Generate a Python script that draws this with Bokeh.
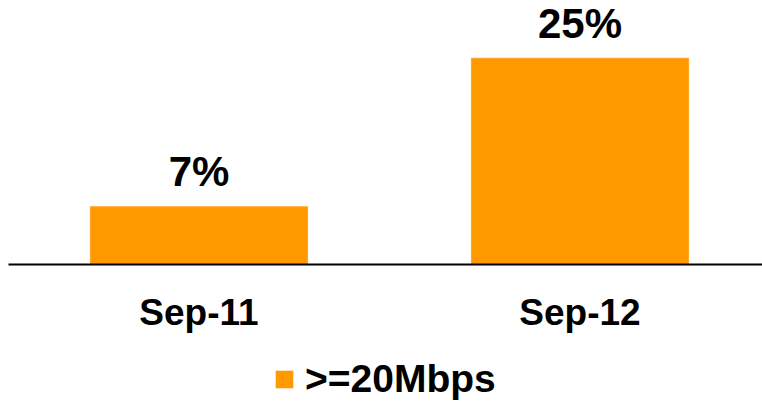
import numpy as np
from bokeh.plotting import figure
from bokeh.layouts import column
from bokeh.models import ColumnDataSource, Range1d, FixedTicker, Legend, LegendItem
from bokeh.core.properties import value
from bokeh.embed import file_html
from bokeh.resources import INLINE

categories = ["Sep-11", "Sep-12"]
shares = [7, 25]
labels = ["7%", "25%"]
series_name = ">=20Mbps"

BAR_COLOR = "#FF9900"
FONT = "Liberation Sans"

xpos = np.arange(len(categories)) + 0.5
src = ColumnDataSource(dict(x=xpos, y=shares, lab=labels))

p = figure(frame_width=754, frame_height=264, output_backend="svg", toolbar_location=None,
           x_range=Range1d(0, 1.979), y_range=Range1d(0, 32.0),
           min_border_left=8, min_border_right=0, min_border_top=0, min_border_bottom=86)
p.outline_line_color = None
p.grid.visible = False
p.yaxis.visible = False

p.vbar(x="x", top="y", width=0.57, bottom=0, source=src,
       fill_color=BAR_COLOR, line_color="#FFA520", line_width=1)
p.text(x="x", y="y", text="lab", source=src, text_align="center", text_baseline="alphabetic",
       y_offset=-35, text_font=value(FONT), text_font_style="bold",
       text_font_size="42px", text_color="black")

ax = p.xaxis[0]
ax.ticker = FixedTicker(ticks=list(xpos))
ax.major_label_overrides = {float(x): c for x, c in zip(xpos, categories)}
ax.major_tick_in = 0
ax.major_tick_out = 0
ax.minor_tick_in = 0
ax.minor_tick_out = 0
ax.axis_line_color = "black"
ax.axis_line_width = 2
ax.major_label_text_font = FONT
ax.major_label_text_font_style = "bold"
ax.major_label_text_font_size = "37px"
ax.major_label_text_color = "black"
ax.major_label_standoff = 27

# legend strip below the chart
lg = figure(frame_width=762, frame_height=51, output_backend="svg", toolbar_location=None,
            x_range=Range1d(100, 101), y_range=Range1d(100, 101),
            min_border_left=0, min_border_right=0, min_border_top=0, min_border_bottom=0)
lg.outline_line_color = None
lg.grid.visible = False
lg.axis.visible = False
lg_bars = lg.vbar(x="x", top="y", width=0.57, bottom=0, source=src,
                  fill_color=BAR_COLOR, line_color=None)
legend = Legend(items=[LegendItem(label=series_name, renderers=[lg_bars])],
                orientation="horizontal", location=(273, 0),
                glyph_width=22, glyph_height=22, label_standoff=10,
                label_text_font=FONT, label_text_font_style="bold",
                label_text_font_size="39px", label_text_color="black",
                border_line_color=None, background_fill_alpha=0,
                padding=0, margin=0, spacing=0)
lg.add_layout(legend, "center")

layout = column(p, lg, spacing=0)
open("out.html", "w").write(file_html(layout, INLINE))
